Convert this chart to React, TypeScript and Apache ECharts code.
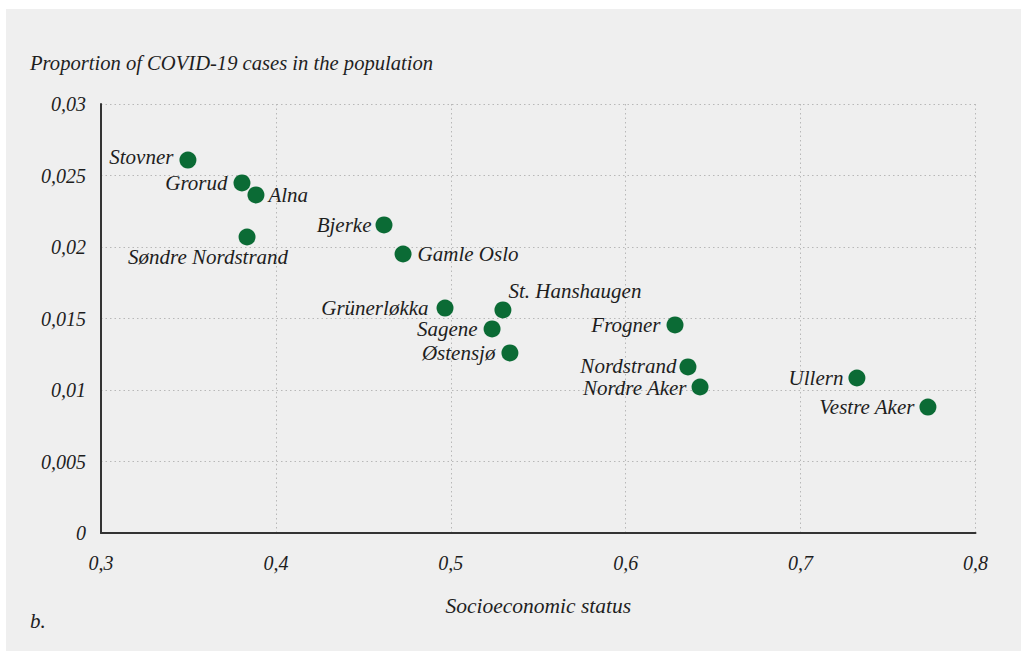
import React, { useEffect, useRef } from "react";
import * as echarts from "echarts";

const districts = [
  "Stovner", "Grorud", "Alna", "Søndre Nordstrand", "Bjerke", "Gamle Oslo",
  "Grünerløkka", "St. Hanshaugen", "Sagene", "Østensjø", "Frogner",
  "Nordstrand", "Nordre Aker", "Ullern", "Vestre Aker",
];
const socioeconomicStatus = [
  0.3497, 0.3806, 0.3886, 0.3835, 0.4618, 0.4727,
  0.4967, 0.5298, 0.5236, 0.5338, 0.6282,
  0.6356, 0.6425, 0.7322, 0.7728,
];
const covidProportion = [
  0.02608, 0.02448, 0.02364, 0.0207, 0.02154, 0.01951,
  0.01573, 0.0156, 0.01427, 0.01259, 0.01455,
  0.01161, 0.01021, 0.01084, 0.00881,
];
const xTicks = [0.3, 0.4, 0.5, 0.6, 0.7, 0.8];
const yTicks = [0, 0.005, 0.01, 0.015, 0.02, 0.025, 0.03];

const yTitle = "Proportion of COVID-19 cases in the population";
const xTitle = "Socioeconomic status";
const panelTag = "b.";

// label placement (layout only)
const labelPlacement: Record<string, { position: string; offset?: number[]; distance?: number }> = {
  "Stovner": { position: "left", offset: [0, -3] },
  "Grorud": { position: "left" },
  "Alna": { position: "right", distance: 4 },
  "Søndre Nordstrand": { position: "bottom", offset: [-39, 0], distance: 2 },
  "Bjerke": { position: "left", distance: 4 },
  "Gamle Oslo": { position: "right" },
  "Grünerløkka": { position: "left", distance: 8 },
  "St. Hanshaugen": { position: "top", offset: [72, 0], distance: 1 },
  "Sagene": { position: "left" },
  "Østensjø": { position: "left" },
  "Frogner": { position: "left" },
  "Nordstrand": { position: "left", distance: 3, offset: [0, -1] },
  "Nordre Aker": { position: "left", distance: 5, offset: [0, 1] },
  "Ullern": { position: "left", distance: 5 },
  "Vestre Aker": { position: "left", distance: 5 },
};

const FONT = "'Liberation Serif', serif";
const TEXT = "#1e1e1e";

const fmt = (v: number) => String(v).replace(".", ",");

export default function App() {
  const ref = useRef<HTMLDivElement>(null);
  useEffect(() => {
    if (!ref.current) return;
    const chart = echarts.init(ref.current, undefined, { renderer: "svg" });
    const data = districts.map((name, i) => {
      const p = labelPlacement[name] || { position: "right" };
      return {
        name,
        value: [socioeconomicStatus[i], covidProportion[i]],
        label: {
          show: true,
          position: p.position,
          offset: p.offset || [0, 0],
          distance: p.distance ?? 6,
        },
      };
    });
    chart.setOption({
      animation: false,
      backgroundColor: "transparent",
      grid: { left: 101, right: 45.5, top: 104, bottom: 118 },
      xAxis: {
        type: "value",
        min: xTicks[0],
        max: xTicks[xTicks.length - 1],
        interval: 0.1,
        name: xTitle,
        nameLocation: "middle",
        nameGap: 62,
        nameTextStyle: { fontFamily: FONT, fontStyle: "italic", fontSize: 21.5, color: TEXT },
        axisLine: { show: true, onZero: false, lineStyle: { color: "#333333", width: 2 } },
        axisTick: { show: false },
        axisLabel: {
          fontFamily: FONT, fontStyle: "italic", fontSize: 20, color: TEXT, margin: 20,
          formatter: (v: number) => fmt(Math.round(v * 10) / 10),
        },
        splitLine: { show: true, lineStyle: { color: "#b8b8b8", type: [1.5, 3], width: 1 } },
      },
      yAxis: {
        type: "value",
        min: yTicks[0],
        max: yTicks[yTicks.length - 1],
        interval: 0.005,
        axisLine: { show: true, onZero: false, lineStyle: { color: "#333333", width: 2 } },
        axisTick: { show: false },
        axisLabel: {
          fontFamily: FONT, fontStyle: "italic", fontSize: 20, color: TEXT, margin: 15,
          formatter: (v: number) => fmt(Math.round(v * 1000) / 1000),
        },
        splitLine: { show: true, lineStyle: { color: "#b8b8b8", type: [1.5, 3], width: 1 } },
      },
      graphic: [
        {
          type: "text", left: 30, top: 52,
          style: { text: yTitle, font: `italic 20.6px ${FONT}`, fill: TEXT },
        },
        {
          type: "text", left: 30, top: 610,
          style: { text: panelTag, font: `italic 21px ${FONT}`, fill: TEXT },
        },
      ],
      series: [
        {
          type: "scatter",
          symbolSize: 17,
          itemStyle: { color: "#0b6b35", opacity: 1 },
          label: {
            formatter: "{b}",
            fontFamily: FONT, fontStyle: "italic", fontSize: 21, lineHeight: 19, color: TEXT,
          },
          data,
        },
      ],
    });
    return () => chart.dispose();
  }, []);
  return (
    <div style={{ position: "fixed", left: 0, top: 0, width: 1021, height: 651, background: "#ffffff" }}>
      <div style={{ position: "absolute", left: 6, top: 9, right: 0, bottom: 0, background: "#efefef" }} />
      <div ref={ref} style={{ position: "absolute", left: 0, top: 0, width: 1021, height: 651 }} />
    </div>
  );
}
